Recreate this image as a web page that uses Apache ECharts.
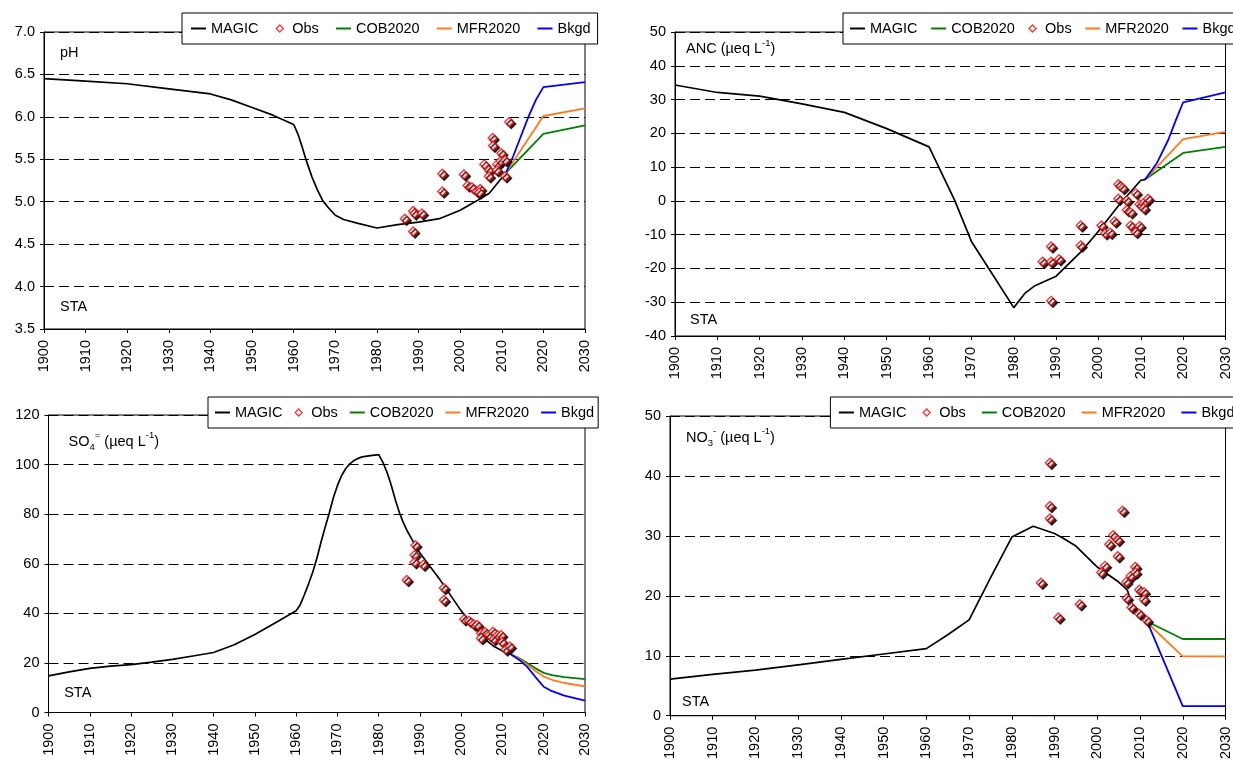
<!DOCTYPE html>
<html><head><meta charset="utf-8">
<script src="https://cdn.jsdelivr.net/npm/echarts/dist/echarts.min.js"></script>
<style>html,body{margin:0;padding:0;background:#fff}#c{width:1233px;height:762px}</style>
</head><body><div id="c"></div>
<script>
// ---------- DATA ----------
const xTicks = [1900, 2030, 10];

// pH
const phMagic = [[1900,6.45],[1910,6.42],[1920,6.39],[1930,6.33],[1940,6.27],[1945,6.20],[1950,6.11],[1955,6.02],[1960,5.91],[1961,5.80],[1962,5.65],[1963,5.49],[1964.4,5.29],[1965.7,5.14],[1967,5.01],[1968.5,4.92],[1970,4.84],[1972,4.79],[1975,4.75],[1980,4.69],[1985,4.73],[1990,4.76],[1995,4.80],[2000,4.90],[2004,5.01],[2007,5.10],[2009,5.22],[2011,5.34]];
const phCob = [[2011,5.34],[2020,5.80],[2030,5.90]];
const phMfr = [[2011,5.34],[2020,6.01],[2030,6.10]];
const phBkgd = [[2011,5.34],[2012.7,5.53],[2014.5,5.76],[2016.4,6.00],[2018.2,6.20],[2020,6.35],[2030,6.41]];
const phObs = [[1986.7,4.80],[1988.7,4.89],[1989.0,4.86],[1990.8,4.86],[1988.7,4.65],[1995.7,5.33],[1995.7,5.12],[2000.9,5.32],[2001.8,5.19],[2002.8,5.17],[2004.0,5.12],[2004.8,5.15],[2004.6,5.11],[2005.8,5.44],[2006.9,5.37],[2006.9,5.30],[2007.8,5.75],[2007.9,5.66],[2008.9,5.44],[2008.8,5.37],[2009.9,5.57],[2009.7,5.48],[2010.8,5.49],[2010.8,5.30],[2011.8,5.94]];

// ANC
const ancMagic = [[1900,34.3],[1910,32.1],[1920,31.0],[1930,28.7],[1940,26.2],[1950,21.4],[1960,16.0],[1962.4,9.7],[1966,0.3],[1970,-12.0],[1975,-21.8],[1980,-31.6],[1982.6,-27.4],[1985,-25.1],[1990,-22.3],[1995.8,-15.2],[2000,-9.0],[2005,-1.0],[2010,6.1],[2011,6.3]];
const ancCob = [[2011,6.3],[2020,14.2],[2030,16.0]];
const ancMfr = [[2011,6.3],[2020,18.3],[2030,20.4]];
const ancBkgd = [[2011,6.3],[2013.8,11.2],[2016.5,18.1],[2018.3,24.0],[2020,29.2],[2030,32.1]];
const ancObs = [[1986.8,-18.0],[1988.8,-13.5],[1988.8,-18.0],[1990.7,-17.3],[1988.8,-29.6],[1995.8,-7.3],[1995.8,-13.2],[2000.7,-7.3],[2001.6,-9.6],[2002.8,-9.4],[2003.8,-6.1],[2004.7,4.9],[2004.7,0.6],[2005.7,3.8],[2006.7,0.1],[2006.7,-2.7],[2007.6,-3.4],[2007.6,-7.3],[2008.8,2.3],[2008.8,-9.2],[2009.7,-1.0],[2009.7,-7.4],[2010.6,-0.7],[2010.7,-2.2],[2011.7,0.6]];

// SO4
const so4Magic = [[1900,14.8],[1905,16.4],[1910,17.8],[1915,18.7],[1920,19.3],[1925,20.3],[1930,21.4],[1935,22.8],[1940,24.2],[1945,27.3],[1950,31.5],[1955,36.2],[1960,41.0],[1961,43.5],[1962,47.5],[1963,51.8],[1964,56.5],[1965,62.0],[1966,68.5],[1967,74.5],[1968,80.3],[1969,86.5],[1970,91.5],[1971,95.5],[1972,98.3],[1973,100.3],[1974,101.6],[1975,102.5],[1976,103.1],[1978,103.6],[1980,104.0],[1981,101.0],[1982,97.0],[1983,92.0],[1984,86.0],[1985,80.8],[1986,76.5],[1987,73.0],[1988,70.0],[1989,67.0],[1990,64.3],[1995,53.2],[2000,41.0],[2002,37.0],[2005,30.5],[2008,26.6],[2010,24.8],[2012,23.5]];
const so4Cob = [[2012,23.5],[2014,22.0],[2016,20.0],[2018,17.8],[2020,16.0],[2022,15.1],[2025,14.3],[2030,13.5]];
const so4Mfr = [[2012,23.5],[2014,21.7],[2016,19.3],[2018,16.7],[2020,14.5],[2022,13.2],[2025,11.9],[2030,10.5]];
const so4Bkgd = [[2012,23.5],[2014,21.3],[2016,18.4],[2018,14.3],[2020,10.4],[2022,8.6],[2025,6.8],[2030,4.8]];
const so4Obs = [[1986.8,53.4],[1988.9,67.5],[1988.7,63.5],[1988.7,60.6],[1990.8,59.6],[1995.8,50.2],[1995.8,45.4],[2000.7,37.6],[2001.9,37.0],[2003.0,35.6],[2003.9,35.3],[2004.8,32.0],[2004.8,30.0],[2005.8,32.4],[2006.8,31.2],[2007.7,32.6],[2007.9,29.6],[2008.8,31.2],[2009.7,31.2],[2009.9,28.4],[2010.8,25.4],[2011.8,26.6]];

// NO3
const no3Magic = [[1900,6.1],[1910,6.9],[1920,7.6],[1930,8.5],[1940,9.4],[1950,10.3],[1960,11.2],[1965,13.5],[1970,16.0],[1975,23.0],[1980,29.8],[1985,31.6],[1990,30.4],[1992,29.6],[1995,28.3],[2000,24.8],[2005,22.3],[2007,21.0],[2008,18.9],[2009,17.5],[2010.5,16.3]];
const no3Cob = [[2010.5,16.3],[2012,15.6],[2020,12.8],[2030,12.8]];
const no3Mfr = [[2010.5,16.3],[2012,15.3],[2020,9.9],[2030,9.9]];
const no3Bkgd = [[2010.5,16.3],[2011.5,16.0],[2020,1.6],[2030,1.6]];
const no3Obs = [[1986.8,22.2],[1988.9,42.2],[1988.9,35.0],[1988.9,32.9],[1990.9,16.4],[1995.9,18.6],[2000.9,23.9],[2001.8,25.0],[2002.8,28.6],[2003.7,30.1],[2004.8,29.3],[2004.8,26.6],[2005.9,34.2],[2006.8,22.3],[2006.9,19.6],[2007.8,23.3],[2008.0,18.1],[2008.9,24.8],[2008.9,23.9],[2009.8,21.0],[2009.8,17.0],[2010.9,20.6],[2010.9,19.4],[2011.6,15.9]];

const yScales = [[3.5, 7.0, 0.5], [-40, 50, 10], [0, 120, 20], [0, 50, 10]];
const legendOrders = [
  ['MAGIC','Obs','COB2020','MFR2020','Bkgd'],
  ['MAGIC','COB2020','Obs','MFR2020','Bkgd'],
  ['MAGIC','Obs','COB2020','MFR2020','Bkgd'],
  ['MAGIC','Obs','COB2020','MFR2020','Bkgd']
];
const panelData = [
  {magic: phMagic, obs: phObs, cob: phCob, mfr: phMfr, bkgd: phBkgd},
  {magic: ancMagic, obs: ancObs, cob: ancCob, mfr: ancMfr, bkgd: ancBkgd},
  {magic: so4Magic, obs: so4Obs, cob: so4Cob, mfr: so4Mfr, bkgd: so4Bkgd},
  {magic: no3Magic, obs: no3Obs, cob: no3Cob, mfr: no3Mfr, bkgd: no3Bkgd}
];
const panelLabels = ['pH', 'ANC (µeq L{sup|-1})', 'SO{sub|4}{sup|=} (µeq L{sup|-1})', 'NO{sub|3}{sup|-} (µeq L{sup|-1})'];
const siteLabel = 'STA';

// ---------- LAYOUT / STYLE ----------
const FONT = "'Liberation Sans', Arial, sans-serif";
const FS = 14.5;
const grids = [
  {left: 44, top: 32, width: 541, height: 297},
  {left: 675, top: 32, width: 554, height: 304},
  {left: 48.5, top: 415, width: 536.5, height: 297.5},
  {left: 670, top: 416, width: 559, height: 304}
];
const legendLayout = [
  {left: 182, top: 13, itemGap: 17.1, padding: [8, 7, 8, 9]},
  {left: 843, top: 13, itemGap: 13.6, padding: [8, 7, 8, 7]},
  {left: 208, top: 397, itemGap: 12, padding: [8, 4, 8, 7]},
  {left: 830.4, top: 397, itemGap: 16.1, padding: [8, 7, 8, 8.5]}
];
const labelPos = [
  {lab: [60, 52.5], sta: [60, 306.7]},
  {lab: [686, 49.3], sta: [690, 320]},
  {lab: [68.5, 441.7], sta: [64.2, 692.5]},
  {lab: [686, 437.7], sta: [682, 701.7]}
];
const COLORS = {MAGIC: '#000000', COB2020: '#008000', MFR2020: '#ff7a1c', Bkgd: '#0000ff'};

const option = {
  animation: false,
  backgroundColor: '#fff',
  grid: grids.map(g => Object.assign({show: true, borderColor: '#000', borderWidth: 1, backgroundColor: 'transparent'}, g)),
  xAxis: grids.map((g, i) => ({
    type: 'value', gridIndex: i, min: xTicks[0], max: xTicks[1], interval: xTicks[2],
    axisLine: {show: true, onZero: false, lineStyle: {color: '#000', width: 1}},
    axisTick: {show: true, length: 4, inside: false, lineStyle: {color: '#000'}},
    axisLabel: {rotate: 90, margin: 11, fontSize: FS, color: '#000', fontFamily: FONT, formatter: v => String(v)},
    splitLine: {show: false}
  })),
  yAxis: grids.map((g, i) => ({
    type: 'value', gridIndex: i, min: yScales[i][0], max: yScales[i][1], interval: yScales[i][2],
    axisLine: {show: true, onZero: false, lineStyle: {color: '#000', width: 1}},
    axisTick: {show: true, length: 4, inside: false, lineStyle: {color: '#000'}},
    axisLabel: {margin: 9, fontSize: FS, color: '#000', fontFamily: FONT,
      formatter: v => i === 0 ? v.toFixed(1) : String(v)},
    splitLine: {show: true, lineStyle: {color: '#000', width: 1, type: [10, 5]}}
  })),
  legend: legendLayout.map((l, i) => ({
    left: l.left, top: l.top, width: 600, padding: l.padding, itemGap: l.itemGap,
    orient: 'horizontal', itemWidth: 15, itemHeight: 7, symbolKeepAspect: true,
    backgroundColor: '#fff', borderColor: '#000', borderWidth: 1, borderRadius: 0,
    selectedMode: false, z: 10,
    textStyle: {fontSize: FS, color: '#000', fontFamily: FONT},
    data: legendOrders[i].map(n => n === 'Obs'
      ? {name: 'Obs', icon: 'path://M5,0L10,5L5,10L0,5Z', itemStyle: {color: '#fff', borderColor: '#ff0000', borderWidth: 1.3, shadowColor: 'rgba(0,0,0,0)', shadowOffsetX: 0, shadowOffsetY: 0}}
      : {name: n, icon: 'path://M0,0H15V2H0Z', itemStyle: {color: COLORS[n], borderWidth: 0}})
  })),
  graphic: [],
  series: []
};

panelData.forEach((p, i) => {
  const line = (name, data, w, z) => ({
    name, type: 'line', xAxisIndex: i, yAxisIndex: i, data, symbol: 'none',
    smooth: false, z,
    lineStyle: {color: COLORS[name], width: w}, itemStyle: {color: COLORS[name]},
    emphasis: {disabled: true}, silent: true
  });
  option.series.push(line('COB2020', p.cob, 1.8, 2));
  option.series.push(line('MFR2020', p.mfr, 1.8, 2));
  option.series.push(line('Bkgd', p.bkgd, 1.8, 2));
  option.series.push(line('MAGIC', p.magic, 1.7, 3));
  option.series.push({
    name: 'Obs', type: 'scatter', xAxisIndex: i, yAxisIndex: i, data: p.obs,
    symbol: 'diamond', symbolSize: 9, z: 4, silent: true,
    itemStyle: {color: '#fff', borderColor: '#ff0000', borderWidth: 1.4,
      shadowColor: '#000', shadowBlur: 0, shadowOffsetX: 2, shadowOffsetY: 2},
    emphasis: {disabled: true}
  });
  const rich = {
    sup: {fontSize: 9.5, fontFamily: FONT, fill: '#000', verticalAlign: 'top'},
    sub: {fontSize: 9.5, fontFamily: FONT, fill: '#000', verticalAlign: 'bottom'}
  };
  option.graphic.push({
    type: 'text', x: labelPos[i].lab[0], y: labelPos[i].lab[1], z: 20,
    style: {text: panelLabels[i], fontSize: FS, fontFamily: FONT, fill: '#000',
      verticalAlign: 'middle', align: 'left', lineHeight: 22, rich}
  });
  option.graphic.push({
    type: 'text', x: labelPos[i].sta[0], y: labelPos[i].sta[1], z: 20,
    style: {text: siteLabel, fontSize: FS, fontFamily: FONT, fill: '#000',
      verticalAlign: 'middle', align: 'left'}
  });
});

const chart = echarts.init(document.getElementById('c'), null, {renderer: 'canvas'});
chart.setOption(option);
</script>
</body></html>
